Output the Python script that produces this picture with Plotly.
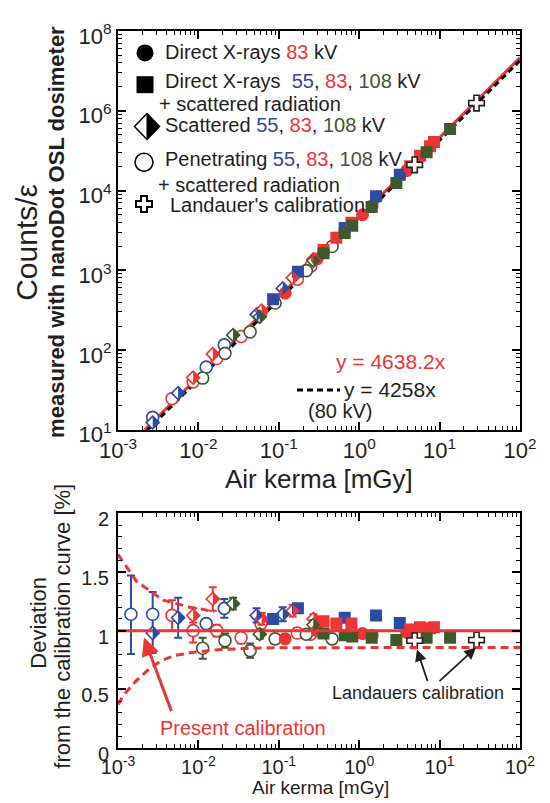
import plotly.graph_objects as go

# ---------------- colours ----------------
RED = "#EE3434"
BLUE = "#2A4CA4"
GREEN = "#3D5A2C"
INK = "#231F20"
FONT = "Liberation Sans, Arial, sans-serif"

# ---------------- fit lines ----------------
FIT_NEW = 4638.2      # present calibration  y = 4638.2x
FIT_OLD = 4258.0      # 80 kV calibration    y = 4258x
fit_x = [1e-3, 1e2]

# ---------------- data ----------------
# Direct X-rays 83 kV (filled circles)
dir_x = [0.12, 0.30, 1.10, 1.45, 3.9]
dir_dev = [0.93, 1.00, 0.975, 0.96, 0.985]
dir_counts = [518, 1390, 4970, 6460, 17800]

# Direct X-rays + scattered radiation (filled squares)
ds_blue_x = [0.085, 0.173, 0.66, 1.62, 3.2]
ds_blue_dev = [1.10, 1.19, 1.11, 1.13, 1.065]
ds_blue_counts = [434, 955, 3400, 8490, 15800]
ds_red_x = [0.36, 0.52, 0.80, 4.3, 5.7, 7.6, 8.5]
ds_red_dev = [1.08, 1.06, 1.06, 1.01, 1.03, 1.02, 1.03]
ds_red_counts = [1800, 2560, 3930, 20100, 27200, 36000, 40600]
ds_green_x = [0.36, 0.66, 0.82, 1.43, 2.9, 6.9, 13.5]
ds_green_dev = [0.975, 0.96, 0.95, 0.94, 0.92, 0.94, 0.94]
ds_green_counts = [1630, 2940, 3610, 6230, 12400, 30100, 58900]

# Scattered (half-filled diamonds)
sc_blue_x = [0.0027, 0.0056, 0.053, 0.112]
sc_blue_dev = [0.98, 1.11, 1.13, 1.14]
sc_blue_err = [0.0, 0.17, 0.06, 0.06]
sc_blue_counts = [12.3, 28.8, 278, 592]
sc_red_x = [0.0086, 0.0151, 0.061, 0.149, 0.27]
sc_red_dev = [1.13, 1.27, 1.10, 1.17, 1.10]
sc_red_err = [0.06, 0.10, 0.05, 0.05, 0.04]
sc_red_counts = [45.1, 88.9, 311, 808, 1377]
sc_green_x = [0.027, 0.058, 0.27]
sc_green_dev = [1.23, 0.97, 1.05]
sc_green_err = [0.05, 0.04, 0.04]
sc_green_counts = [154, 261, 1315]

# Penetrating + scattered radiation (open circles)
pn_blue_x = [0.00145, 0.0027, 0.0125, 0.021]
pn_blue_dev = [1.14, 1.14, 1.06, 1.19]
pn_blue_err_up = [0.33, 0.19, 0.0, 0.08]
pn_blue_err_dn = [0.34, 0.33, 0.0, 0.08]
pn_blue_counts = [7.7, 14.3, 61, 116]
pn_red_x = [0.0047, 0.0086, 0.0169, 0.034, 0.060, 0.17, 0.25]
pn_red_dev = [1.13, 1.00, 1.00, 0.94, 1.06, 0.98, 0.97]
pn_red_err = [0.13, 0.10, 0.05, 0.05, 0.05, 0.04, 0.04]
pn_red_counts = [24.6, 39.9, 78.4, 148, 295, 773, 1125]
pn_green_x = [0.0113, 0.0214, 0.044, 0.090, 0.22, 0.46]
pn_green_dev = [0.85, 0.915, 0.83, 0.93, 0.97, 0.93]
pn_green_err = [0.09, 0.06, 0.06, 0.04, 0.03, 0.03]
pn_green_counts = [44.5, 90.8, 169, 388, 990, 1984]

# Landauer's calibration (open crosses)
land_x = [4.9, 28.8]
land_dev = [0.915, 0.92]
land_counts = [21000, 125000]

# uncertainty envelope of the present calibration (dashed red)
env_low_x = [0.001, 0.00117, 0.0017, 0.0025, 0.0035, 0.0051, 0.0087, 0.0186, 0.0355, 0.1, 100]
env_low_y = [0.37, 0.45, 0.576, 0.68, 0.746, 0.788, 0.816, 0.839, 0.847, 0.855, 0.856]
env_up_x = [0.001, 0.0017, 0.00363, 0.0079, 0.0126, 0.0158]
env_up_y = [1.65, 1.42, 1.26, 1.20, 1.175, 1.16]

# tick labels
x_tickvals = [1e-3, 1e-2, 1e-1, 1e0, 1e1, 1e2]
x_ticktext = ["10<sup>-3</sup>", "10<sup>-2</sup>", "10<sup>-1</sup>", "10<sup>0</sup>",
              "10<sup>1</sup>", "10<sup>2</sup>"]
y_tickvals = [1e1, 1e2, 1e3, 1e4, 1e5, 1e6]
y_ticktext = ["10<sup>1</sup>", "10<sup>2</sup>", "10<sup>3</sup>", "10<sup>4</sup>",
              "10<sup>6</sup>", "10<sup>8</sup>"]
dev_tickvals = [0, 0.5, 1, 1.5, 2]
dev_ticktext = ["0", "0.5", "1", "1.5", "2"]

# ---------------- geometry (screen pixels) ----------------
W, H = 550, 803
OFF = 8                          # default page body margin of the browser
FW, FH = W - OFF, H - OFF        # figure ends at the window edge
L, R, T, B = 118, 520, 27, 748
TOP_BOTTOM = 428
BOT_TOP = 512


def pxx(x):
    return (x - L) / (R - L)


def pxy(y):
    return (B - y) / (B - T)


fig = go.Figure()

# ---- top panel lines ----
fig.add_trace(go.Scatter(x=fit_x, y=[FIT_NEW * v for v in fit_x], mode="lines",
                         line=dict(color=RED, width=3), xaxis="x", yaxis="y",
                         showlegend=False, hoverinfo="skip"))
fig.add_trace(go.Scatter(x=fit_x, y=[FIT_OLD * v for v in fit_x], mode="lines",
                         line=dict(color="black", width=3, dash="6px,4px"),
                         xaxis="x", yaxis="y", showlegend=False, hoverinfo="skip"))

shapes = []


def half_diamonds(xs, ys, color, xref, yref, h=6.8):
    for xv, yv in zip(xs, ys):
        shapes.append(dict(type="path", xref=xref, yref=yref,
                           xsizemode="pixel", ysizemode="pixel",
                           xanchor=xv, yanchor=yv,
                           path=f"M0,{-h}L{h},0L0,{h}Z",
                           fillcolor=color, line=dict(width=0), layer="above"))


def add_series(panel, x, y, kind, color, err_up=None, err_dn=None):
    xa, ya = ("x", "y") if panel == "top" else ("x2", "y2")
    if kind == "dir":
        marker = dict(symbol="circle", size=13, color=color, line=dict(width=0))
    elif kind == "ds":
        marker = dict(symbol="square", size=12, color=color, line=dict(width=0))
    elif kind == "sc":
        marker = dict(symbol="diamond", size=10, color="white", line=dict(color=color, width=1.6))
    elif kind == "pn":
        marker = dict(symbol="circle", size=12, color="white", line=dict(color=color, width=1.6))
    else:
        marker = dict(symbol="cross", size=13, color="white", line=dict(color=INK, width=1.6))
    err = None
    if err_up is not None:
        err = dict(type="data", symmetric=False, array=err_up,
                   arrayminus=err_dn if err_dn is not None else err_up,
                   color=color, thickness=2, width=4)
    fig.add_trace(go.Scatter(x=x, y=y, mode="markers", marker=marker, error_y=err,
                             xaxis=xa, yaxis=ya, showlegend=False, hoverinfo="skip"))
    if kind == "sc":
        half_diamonds(x, y, color, xa, ya)


# ---- top panel markers ----
add_series("top", pn_blue_x, pn_blue_counts, "pn", BLUE)
add_series("top", pn_red_x, pn_red_counts, "pn", RED)
add_series("top", pn_green_x, pn_green_counts, "pn", GREEN)
add_series("top", sc_blue_x, sc_blue_counts, "sc", BLUE)
add_series("top", sc_red_x, sc_red_counts, "sc", RED)
add_series("top", sc_green_x, sc_green_counts, "sc", GREEN)
add_series("top", dir_x, dir_counts, "dir", RED)
add_series("top", ds_blue_x, ds_blue_counts, "ds", BLUE)
add_series("top", ds_red_x, ds_red_counts, "ds", RED)
add_series("top", ds_green_x, ds_green_counts, "ds", GREEN)
add_series("top", land_x, land_counts, "land", INK)

# ---- bottom panel markers ----
add_series("bot", pn_blue_x, pn_blue_dev, "pn", BLUE, pn_blue_err_up, pn_blue_err_dn)
add_series("bot", pn_red_x, pn_red_dev, "pn", RED, pn_red_err)
add_series("bot", pn_green_x, pn_green_dev, "pn", GREEN, pn_green_err)
add_series("bot", sc_blue_x, sc_blue_dev, "sc", BLUE, sc_blue_err)
add_series("bot", sc_red_x, sc_red_dev, "sc", RED, sc_red_err)
add_series("bot", sc_green_x, sc_green_dev, "sc", GREEN, sc_green_err)
add_series("bot", dir_x, dir_dev, "dir", RED)
add_series("bot", ds_blue_x, ds_blue_dev, "ds", BLUE)
add_series("bot", ds_red_x, ds_red_dev, "ds", RED)
add_series("bot", ds_green_x, ds_green_dev, "ds", GREEN)
add_series("bot", land_x, land_dev, "land", INK)

# ---- bottom panel lines ----
fig.add_trace(go.Scatter(x=fit_x, y=[1, 1], mode="lines", line=dict(color=RED, width=3),
                         xaxis="x2", yaxis="y2", showlegend=False, hoverinfo="skip"))
fig.add_trace(go.Scatter(x=env_low_x, y=env_low_y, mode="lines",
                         line=dict(color=RED, width=3, dash="8px,5px"),
                         xaxis="x2", yaxis="y2", showlegend=False, hoverinfo="skip"))
fig.add_trace(go.Scatter(x=env_up_x, y=env_up_y, mode="lines",
                         line=dict(color=RED, width=3, dash="8px,5px"),
                         xaxis="x2", yaxis="y2", showlegend=False, hoverinfo="skip"))

# ---------------- legend symbols (paper, pixel sized) ----------------
def pshape(kind, cx, cy, **kw):
    base = dict(xref="paper", yref="paper", xsizemode="pixel", ysizemode="pixel",
                xanchor=pxx(cx), yanchor=pxy(cy), layer="above")
    base.update(kw)
    base["type"] = kind
    shapes.append(base)


pshape("circle", 145, 49, x0=-8.5, x1=8.5, y0=-8.5, y1=8.5, fillcolor="black",
       line=dict(width=0))
pshape("rect", 145, 81, x0=-8.5, x1=8.5, y0=-8.5, y1=8.5, fillcolor="black",
       line=dict(width=0))
pshape("path", 147, 123, path="M0,13L12.5,0L0,-13L-12.5,0Z", fillcolor="white",
       line=dict(color="black", width=1.5))
pshape("path", 147, 123, path="M0,13L12.5,0L0,-13Z", fillcolor="black",
       line=dict(color="black", width=1))
pshape("circle", 144, 159, x0=-9, x1=9, y0=-9, y1=9, fillcolor="white",
       line=dict(color="black", width=1.5))
pshape("path", 144, 201,
       path="M-3,8L3,8L3,3L8,3L8,-3L3,-3L3,-8L-3,-8L-3,-3L-8,-3L-8,3L-3,3Z",
       fillcolor="white", line=dict(color="black", width=2))
# dashed sample of the 80 kV calibration line
shapes.append(dict(type="line", xref="paper", yref="paper",
                   x0=pxx(297), x1=pxx(340), y0=pxy(388), y1=pxy(388),
                   line=dict(color="black", width=3, dash="6px,4px")))

# ---------------- annotations ----------------
ann = []


def text(t, x, y, size, color=INK, xanchor="center", angle=0):
    ann.append(dict(text=t, x=pxx(x), y=pxy(y), xref="paper", yref="paper",
                    showarrow=False, xanchor=xanchor, yanchor="middle",
                    textangle=angle, font=dict(family=FONT, size=size, color=color)))


def c(t, col):
    return f"<span style='color:{col}'>{t}</span>"


text("Direct X-rays " + c("83", RED) + " kV", 163, 48, 20, xanchor="left")
text("Direct X-rays  " + c("55", BLUE) + ", " + c("83", RED) + ", " + c("108", GREEN) + " kV",
     163, 77, 20, xanchor="left")
text("+ scattered radiation", 157, 100, 20, xanchor="left")
text("Scattered " + c("55", BLUE) + ", " + c("83", RED) + ", " + c("108", GREEN) + " kV",
     163, 122, 20, xanchor="left")
text("Penetrating " + c("55", BLUE) + ", " + c("83", RED) + ", " + c("108", GREEN) + " kV",
     163, 156, 20, xanchor="left")
text("+ scattered radiation", 156, 182, 20, xanchor="left")
text("Landauer's calibration", 168, 202, 20, xanchor="left")

text("y = 4638.2x", 391, 359, 21, color=RED)
text("y = 4258x", 342, 388, 21, xanchor="left")
text("(80 kV)", 340, 409, 20)

text("Air kerma [mGy]", 319, 478, 26)
text("Air kerma [mGy]", 320, 788, 19)
text("Counts/ε", 27, 240, 30, angle=-90)
text("<b>measured with nanoDot OSL dosimeter</b>", 57, 229, 22, angle=-90)
text("Deviation", 39, 622, 22, angle=-90)
text("from the calibration curve [%]", 63, 626, 22, angle=-90)

text("Present calibration", 243, 728, 20, color=RED)
text("Landauers calibration", 418, 693, 18)

# arrows
ann.append(dict(x=pxx(144), y=pxy(637), xref="paper", yref="paper", text="",
                showarrow=True, ax=28, ay=75, arrowcolor=RED, arrowwidth=3,
                arrowhead=2, arrowsize=1.2))
ann.append(dict(x=pxx(417), y=pxy(649), xref="paper", yref="paper", text="",
                showarrow=True, ax=11, ay=33, arrowcolor=INK, arrowwidth=1.8,
                arrowhead=2, arrowsize=1.3))
ann.append(dict(x=pxx(476), y=pxy(647), xref="paper", yref="paper", text="",
                showarrow=True, ax=-38, ay=35, arrowcolor=INK, arrowwidth=1.8,
                arrowhead=2, arrowsize=1.3))

# ---------------- axes ----------------
log_minor = [m * 10.0 ** e for e in range(-3, 2) for m in range(2, 10)]
cnt_minor = [m * 10.0 ** e for e in range(1, 6) for m in range(2, 10)]
dev_minor = [i / 10 for i in range(0, 21) if i % 5 != 0]

axis_common = dict(showline=True, linecolor="black", linewidth=2, mirror="ticks",
                   ticks="inside", ticklen=8, tickwidth=1.5, tickcolor="black",
                   showgrid=False, zeroline=False, tickmode="array",
                   tickfont=dict(family=FONT, color=INK))

top_dom = [pxy(TOP_BOTTOM), 1.0]
bot_dom = [0.0, pxy(BOT_TOP)]

fig.update_layout(
    width=FW, height=FH,
    margin=dict(l=L - OFF, r=FW - (R - OFF), t=T - OFF, b=FH - (B - OFF), pad=0),
    paper_bgcolor="white", plot_bgcolor="white",
    showlegend=False,
    xaxis=dict(axis_common, type="log", range=[-3, 2], domain=[0, 1], anchor="y",
               tickvals=x_tickvals, ticktext=x_ticktext, tickfont_size=22,
               minor=dict(tickmode="array", tickvals=log_minor, ticks="inside",
                          ticklen=4, tickwidth=1.2, tickcolor="black", showgrid=False)),
    yaxis=dict(axis_common, type="log", range=[1, 6], domain=top_dom, anchor="x",
               tickvals=y_tickvals, ticktext=y_ticktext, tickfont_size=22,
               ticklabelshift=5,
               minor=dict(tickmode="array", tickvals=cnt_minor, ticks="inside",
                          ticklen=4, tickwidth=1.2, tickcolor="black", showgrid=False)),
    xaxis2=dict(axis_common, type="log", range=[-3, 2], domain=[0, 1], anchor="y2",
                tickvals=x_tickvals, ticktext=x_ticktext, tickfont_size=20,
                minor=dict(tickmode="array", tickvals=log_minor, ticks="inside",
                           ticklen=4, tickwidth=1.2, tickcolor="black", showgrid=False)),
    yaxis2=dict(axis_common, type="linear", range=[0, 2], domain=bot_dom, anchor="x2",
                tickvals=dev_tickvals, ticktext=dev_ticktext, tickfont_size=20,
                ticklabelshift=6, ticklabelstandoff=3,
                minor=dict(tickmode="array", tickvals=dev_minor, ticks="inside",
                           ticklen=4, tickwidth=1.2, tickcolor="black", showgrid=False)),
    shapes=shapes,
    annotations=ann,
)

fig.write_html("out.html", config={"displayModeBar": False})
